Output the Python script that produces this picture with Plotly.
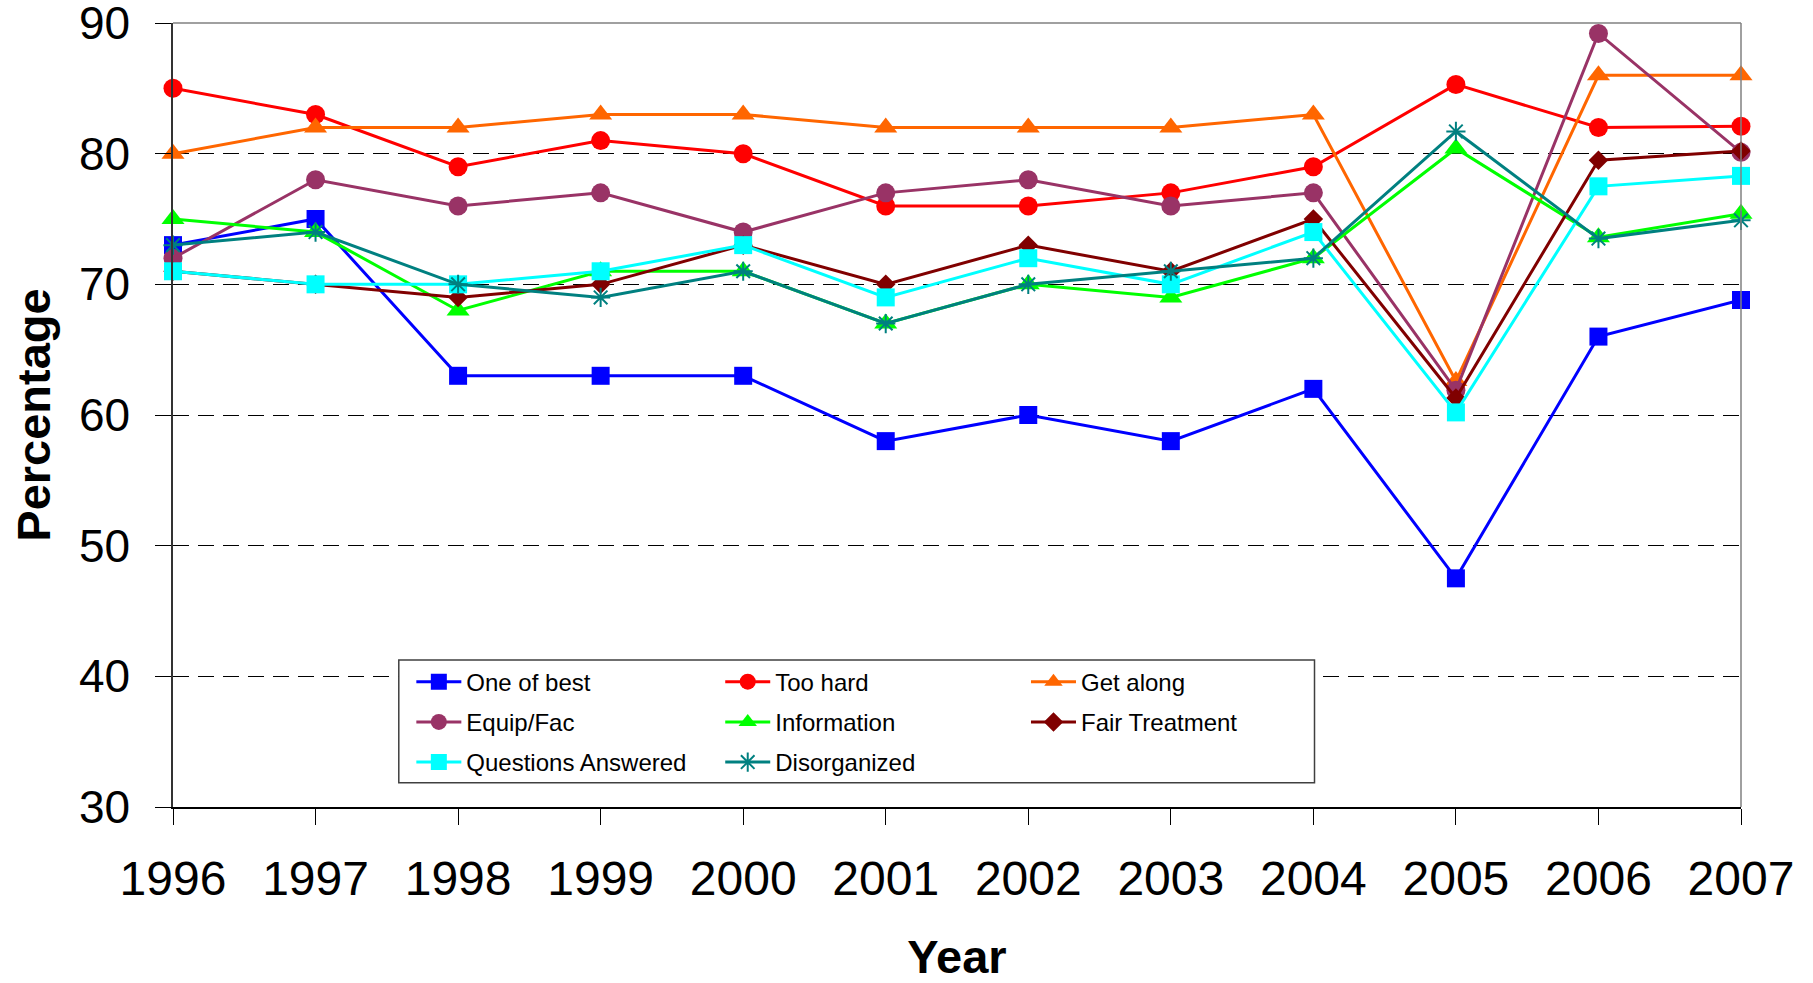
import plotly.graph_objects as go

YEARS = list(range(1996, 2008))
Y_TICKS = [30, 40, 50, 60, 70, 80, 90]

ONE_OF_BEST = [73, 75, 63, 63, 63, 58, 60, 58, 62, 47.5, 66, 68.8]
TOO_HARD = [85, 83, 79, 81, 80, 76, 76, 77, 79, 85.3, 82, 82.1]
GET_ALONG = [80, 82, 82, 83, 83, 82, 82, 82, 83, 62.6, 86, 86]
EQUIP_FAC = [72, 78, 76, 77, 74, 77, 78, 76, 77, 61.9, 89.2, 80.1]
INFORMATION = [75, 74, 68, 71, 71, 67, 70, 69, 72, 80.4, 73.6, 75.4]
FAIR_TREATMENT = [71, 70, 69, 70, 73, 70, 73, 71, 75, 61.3, 79.5, 80.2]
QUESTIONS_ANSWERED = [71, 70, 70, 71, 73, 69, 72, 70, 74, 60.2, 77.5, 78.3]
DISORGANIZED = [73, 74, 70, 69, 71, 67, 70, 71, 72, 81.7, 73.5, 74.9]

FONT = "Liberation Sans, Arial, sans-serif"

# name, values, colour, symbol, size, legend column
SERIES = [
    ("One of best", ONE_OF_BEST, "#0000FF", "square", 18, "legend"),
    ("Too hard", TOO_HARD, "#FF0000", "circle", 19, "legend2"),
    ("Get along", GET_ALONG, "#FF6600", "triangle-up", 20, "legend3"),
    ("Equip/Fac", EQUIP_FAC, "#993366", "circle", 19, "legend"),
    ("Information", INFORMATION, "#00FF00", "triangle-up", 20, "legend2"),
    ("Fair Treatment", FAIR_TREATMENT, "#800000", "diamond", 15, "legend3"),
    ("Questions Answered", QUESTIONS_ANSWERED, "#00FFFF", "square", 18, "legend"),
    ("Disorganized", DISORGANIZED, "#008080", "asterisk-open", 16, "legend2"),
]

fig = go.Figure()
for name, values, colour, symbol, size, legend_id in SERIES:
  marker = dict(symbol=symbol, size=size, color=colour)
  if symbol == "asterisk-open":
    marker["line"] = dict(color=colour, width=2)
  fig.add_trace(
      go.Scatter(x=YEARS,
                 y=values,
                 name=name,
                 mode="lines+markers",
                 line=dict(color=colour, width=3),
                 marker=marker,
                 legend=legend_id,
                 legendgroup=name,
                 cliponaxis=False))

legend_common = dict(font=dict(family=FONT, size=24, color="black"),
                     bgcolor="rgba(0,0,0,0)",
                     borderwidth=0,
                     itemwidth=45,
                     tracegroupgap=6,
                     xanchor="left",
                     yanchor="top",
                     y=0.188)

fig.update_layout(
    width=1813,
    height=983,
    margin=dict(l=173, r=72, t=23, b=176),
    paper_bgcolor="white",
    plot_bgcolor="white",
    font=dict(family=FONT, color="black"),
    showlegend=True,
    legend=dict(x=0.152, **legend_common),
    legend2=dict(x=0.349, **legend_common),
    legend3=dict(x=0.544, **legend_common),
    xaxis=dict(
        range=[1996, 2007],
        tickvals=YEARS,
        ticktext=[str(y) for y in YEARS],
        ticks="outside",
        ticklen=16,
        tickcolor="black",
        tickfont=dict(family=FONT, size=48, color="black"),
        ticklabelstandoff=13,
        ticklabeloverflow="allow",
        showgrid=False,
        zeroline=False,
        showline=True,
        linecolor="black",
        linewidth=1.5,
        title=dict(text="<b>Year</b>",
                   font=dict(family=FONT, size=47, color="black"),
                   standoff=43),
        automargin=False,
    ),
    yaxis=dict(
        range=[30, 90],
        tickvals=Y_TICKS,
        ticks="outside",
        ticklen=16,
        tickcolor="black",
        tickfont=dict(family=FONT, size=46, color="black"),
        ticklabelstandoff=16,
        ticklabeloverflow="allow",
        showgrid=True,
        gridcolor="black",
        gridwidth=1,
        griddash="16px,9px",
        zeroline=False,
        showline=True,
        linecolor="#333333",
        linewidth=1.5,
        title=dict(text="<b>Percentage</b>",
                   font=dict(family=FONT, size=47, color="black"),
                   standoff=13),
        automargin=False,
    ),
    shapes=[
        # top and right frame of the plot area
        dict(type="line", xref="x domain", yref="y domain", x0=0, x1=1,
             y0=1, y1=1, line=dict(color="#808080", width=1.5)),
        dict(type="line", xref="x domain", yref="y domain", x0=1, x1=1,
             y0=0, y1=1, line=dict(color="#808080", width=1.5)),
        # legend box
        dict(type="rect", xref="x domain", yref="y domain", x0=0.144,
             x1=0.728, y0=0.031, y1=0.1875, fillcolor="white",
             line=dict(color="#404040", width=1.5), layer="above"),
    ],
)

fig.write_html("out.html",
               config={"displayModeBar": False},
               post_script="document.body.style.margin='0';"
               "document.body.style.overflow='hidden';")
